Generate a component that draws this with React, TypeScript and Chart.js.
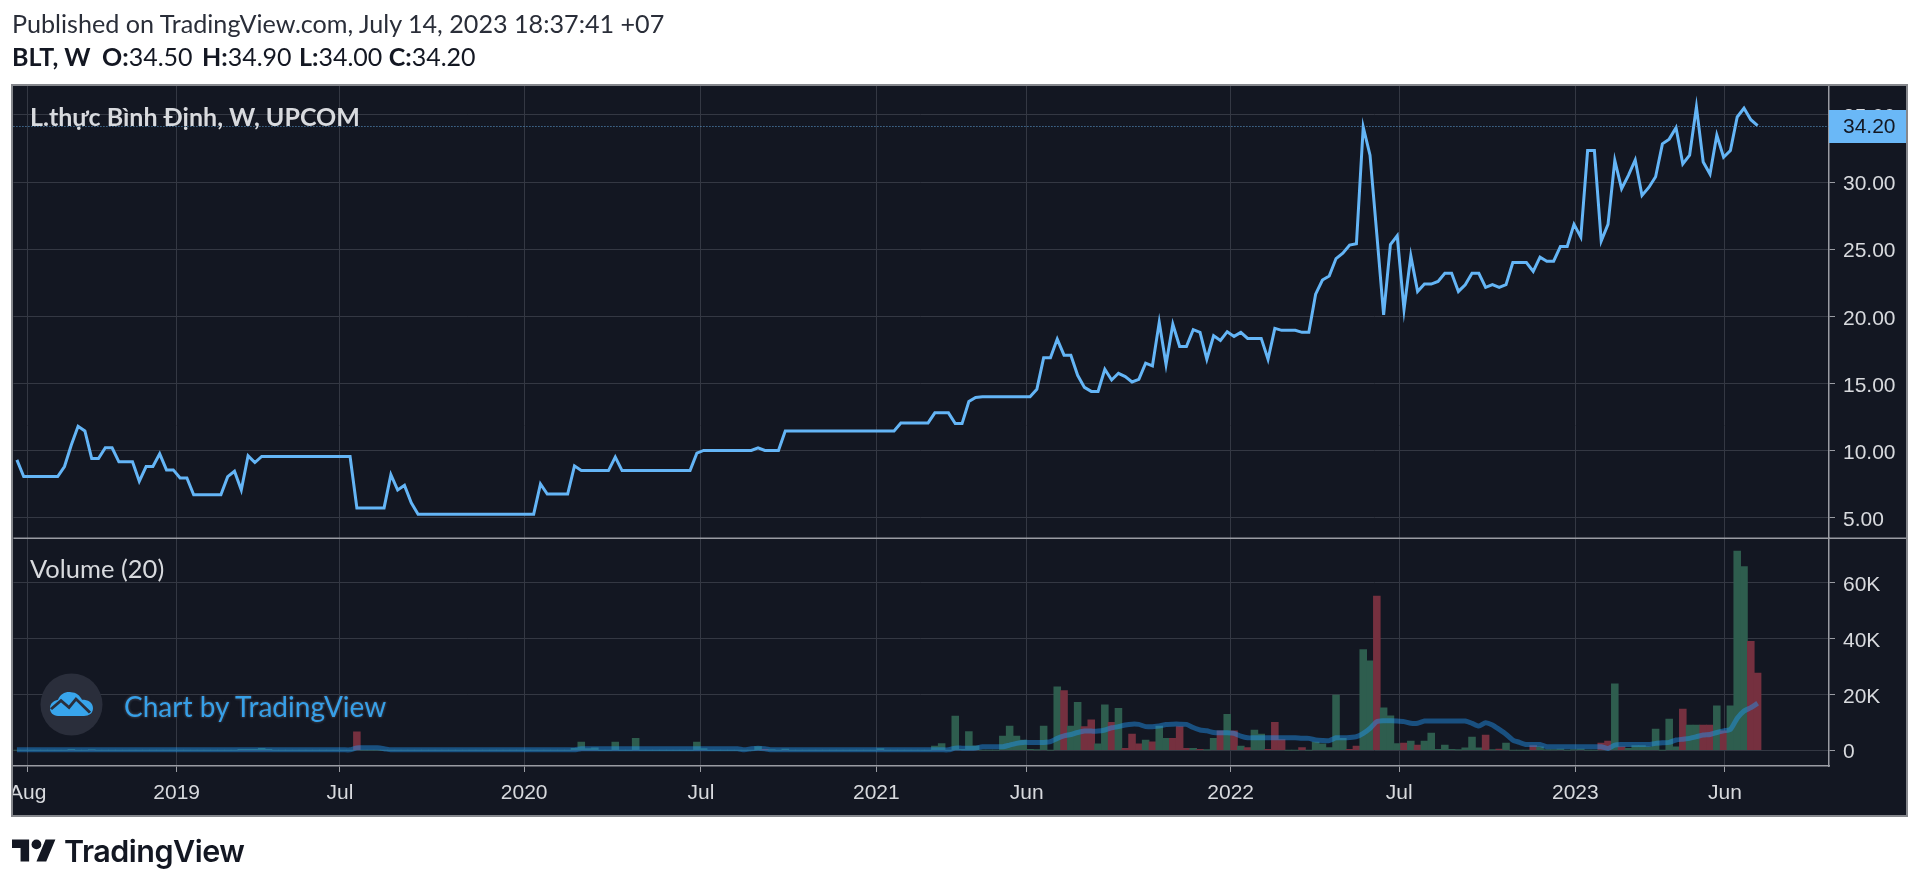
import React, { useEffect, useRef } from "react";
import { Chart, registerables } from "chart.js";

Chart.register(...registerables);

// Weekly closes, one per week, Aug 2018 to Jul 2023
const prices = [
  9.3,8.05,8.05,8.05,8.05,8.05,8.05,8.8,10.4,11.8,
  11.45,9.4,9.4,10.2,10.2,9.15,9.15,9.15,7.7,8.8,
  8.8,9.75,8.55,8.55,7.95,7.95,6.7,6.7,6.7,6.7,
  6.7,8.05,8.45,7.05,9.6,9.1,9.55,9.55,9.55,9.55,
  9.55,9.55,9.55,9.55,9.55,9.55,9.55,9.55,9.55,9.55,
  5.72,5.72,5.72,5.72,5.72,8.2,7.05,7.4,6.1,5.25,
  5.25,5.25,5.25,5.25,5.25,5.25,5.25,5.25,5.25,5.25,
  5.25,5.25,5.25,5.25,5.25,5.25,5.25,7.5,6.75,6.75,
  6.75,6.75,8.85,8.5,8.5,8.5,8.5,8.5,9.5,8.5,
  8.5,8.5,8.5,8.5,8.5,8.5,8.5,8.5,8.5,8.5,
  9.8,10,10,10,10,10,10,10,10,10.2,
  10,10,10,11.45,11.45,11.45,11.45,11.45,11.45,11.45,
  11.45,11.45,11.45,11.45,11.45,11.45,11.45,11.45,11.45,11.45,
  12.05,12.05,12.05,12.05,12.05,12.8,12.8,12.8,12,12,
  13.65,13.95,14,14,14,14,14,14,14,14,
  14.55,16.9,16.9,18.3,17.1,17.1,15.6,14.7,14.4,14.4,
  16.05,15.25,15.75,15.5,15.1,15.3,16.5,16.3,19.55,16.4,
  19.4,17.75,17.75,19,18.8,16.8,18.55,18.2,18.85,18.5,
  18.8,18.35,18.35,18.35,16.8,19.1,18.95,18.95,18.95,18.8,
  18.8,21.65,22.7,23,24.3,24.7,25.3,25.4,34.1,32,
  26.1,20.1,25.35,26,20.5,24.5,21.85,22.4,22.4,22.6,
  23.2,23.2,21.85,22.35,23.2,23.2,22.15,22.35,22.15,22.35,
  24,24,24,23.35,24.4,24.1,24.1,25.2,25.2,26.85,
  25.9,32.35,32.35,25.6,26.85,31.6,29.5,30.5,31.65,29,
  29.6,30.4,32.85,33.2,34.05,31.35,32,35.6,31.5,30.6,
  33.5,31.85,32.35,34.85,35.5,34.65,34.2,
];

// Weekly volume, thousands
const volumes = [
  0,0,0,0,0,0,0,0,0.3,0,
  0,0.2,0,0,0,0,0,0,0,0,
  0,0,0,0,0,0,0,0,0,0,
  0,0,0,0.3,0.3,0.3,0.6,0.3,0,0,
  0,0,0,0,0,0,0,0,0,0,
  6.5,0,0,0,0,0,0,0,0,0,
  0,0,0,0,0,0,0,0,0,0,
  0,0,0,0,0,0,0,0,0,0,
  0,0,0.6,2.9,0.5,0.8,0,0,2.9,0,
  0,4.2,0,0,0,0,0,0,0,0,
  2.9,0.5,0,0,0,0,0,0,0,1.3,
  0.3,0.1,0,0.4,0,0,0,0,0,0,
  0,0,0,0,0,0,0,0.5,0,0,
  0,0,0,0,0,1.4,2.3,0,12.2,0.3,
  6.6,1.5,0,0,0,5,8.6,5,3.6,0.3,
  0.1,8.6,0,22.7,21.3,8.6,17.1,8.4,10.8,2.2,
  16.2,9.9,15,0.6,5.7,2.2,3.6,3,8.6,4.2,
  4.2,8.4,0.6,0.6,0.3,0.1,4.2,6.9,12.8,6.9,
  1.4,0.9,7.2,5.7,0.3,9.9,3.8,0,0,0.9,
  0,2.9,2.2,0.9,19.7,4.2,0.3,1.4,36,32,
  55.2,15.1,12.3,2.3,2.5,3.2,1.8,3.2,6.1,0.3,
  1.8,0.3,0.1,0.8,4.7,0.8,5.4,0.1,0.4,2.5,
  0,0,0,1.6,1.2,0.1,0.1,0.4,0,0.1,
  0.4,0,0,2.5,3.2,23.7,1.2,0.6,1.6,1.6,
  1.2,7.5,0,11.1,1.2,14.7,9,9,9,9,
  15.9,6.9,15.9,71.3,65.7,39,27.6,
];

// Weeks whose volume bar is red
const downWeeks = [
  50,110,154,157,158,161,163,164,165,167,170,171,172,174,177,179,181,184,185,186,
  189,196,197,200,204,206,216,218,223,233,234,236,245,248,249,251,255,256,
];

// Volume moving average (20), thousands
const volumeAverage = [
  0.1,0.1,0.1,0.1,0.1,0.1,0.1,0.1,0.1,0.1,
  0.1,0.1,0.1,0.1,0.1,0.1,0.1,0.1,0.1,0.1,
  0.1,0.1,0.1,0.1,0.1,0.1,0.1,0.1,0.1,0.1,
  0.1,0.1,0.1,0.1,0.1,0.1,0.1,0.1,0.1,0.1,
  0.1,0.1,0.1,0.1,0.1,0.1,0.1,0.1,0.1,0.1,
  0.8,0.8,0.8,0.8,0.5,0.1,0.1,0.1,0.1,0.1,
  0.1,0.1,0.1,0.1,0.1,0.1,0.1,0.1,0.1,0.1,
  0.1,0.1,0.1,0.1,0.1,0.1,0.1,0.1,0.1,0.1,
  0.1,0.1,0.1,0.5,0.5,0.5,0.5,0.5,0.5,0.5,
  0.5,0.5,0.5,0.5,0.5,0.5,0.5,0.5,0.5,0.5,
  0.5,0.5,0.5,0.5,0.5,0.5,0.5,0.1,0.5,0.7,
  0.5,0.1,0.1,0.1,0.1,0.1,0.1,0.1,0.1,0.1,
  0.1,0.1,0.1,0.1,0.1,0.1,0.1,0.1,0.1,0.1,
  0.1,0.1,0.1,0.1,0.1,0.1,0.1,0.1,0.7,0.7,
  0.7,0.7,1.2,1.2,1.2,1.2,1.8,2.4,2.75,2.75,
  2.75,2.75,3,4.2,5.1,5.6,6.3,6.8,6.8,6.8,
  7.2,8,8.4,9,9.3,9.2,8.4,8.4,8.6,9.2,
  9.3,9.3,9.2,8.1,7.2,6.9,6.3,6.2,6.2,6,
  5,4.4,4.4,4.4,4.4,4.4,4.4,4.4,4.4,4.2,
  4.2,3.6,3.4,3.4,4.4,4.4,4.5,4.8,6,7.8,
  10.2,10.5,10.5,10.4,10.2,9.6,9.6,10.4,10.4,10.4,
  10.4,10.4,10.4,10.4,9.6,8.6,9.8,9,7.4,5.7,
  3.6,2.75,2,2,2,1.2,1.2,1.2,1.2,1.2,
  1.2,1.2,1.2,1.2,0.6,1.8,2,2,2,2,
  2,2.4,2.6,2.75,3.6,3.9,4.2,4.8,5.4,5.6,
  6.3,6.9,7.4,11.4,14,15.2,16.8,
];

const weekIndexes = prices.map((_, i) => i);
const timeTickWeeks = [1.6, 23.5, 47.5, 74.6, 100.6, 126.4, 148.5, 178.5, 203.3, 229.2, 251.2];
const timeTickLabels = ["Aug", "2019", "Jul", "2020", "Jul", "2021", "Jun", "2022", "Jul", "2023", "Jun"];
const priceTicks = [5, 10, 15, 20, 25, 30, 35];
const volumeTicks = [0, 20, 40, 60];
const lastPrice = 34.2;

const AXIS_FONT = { family: "'Liberation Sans', Arial, sans-serif", size: 21 };
// The empty first line with this line height lowers the y labels a little, as in the reference.
const Y_AXIS_FONT = { ...AXIS_FONT, lineHeight: "5px" };
const GRID = "#343843";
const AXIS_LINE = "#9a9ca3";
const AXIS_TEXT = "#d8dade";
const LINE_BLUE = "#64b5f6";

const panelPlugin = {
  id: "panel",
  afterDraw(chart: any) {
    const { ctx, scales, chartArea } = chart;
    const y = scales.yPrice.getPixelForValue(lastPrice);
    ctx.save();
    // last-price dotted line
    ctx.strokeStyle = "#5b9bd0";
    ctx.lineWidth = 1;
    ctx.setLineDash([1, 2]);
    ctx.beginPath();
    ctx.moveTo(chartArea.left, Math.round(y) + 0.5);
    ctx.lineTo(chartArea.right, Math.round(y) + 0.5);
    ctx.stroke();
    ctx.setLineDash([]);
    // pane separator
    ctx.strokeStyle = AXIS_LINE;
    ctx.lineWidth = 1.5;
    ctx.beginPath();
    ctx.moveTo(chartArea.left, scales.yPrice.bottom + 0.5);
    ctx.lineTo(1907, scales.yPrice.bottom + 0.5);
    ctx.stroke();
    // last-price badge
    ctx.fillStyle = "#6ab8f7";
    ctx.fillRect(chartArea.right, Math.round(y) - 16, 1907 - chartArea.right, 33);
    ctx.fillStyle = "#131722";
    ctx.font = "21px 'Liberation Sans', Arial, sans-serif";
    ctx.textBaseline = "middle";
    ctx.textAlign = "left";
    ctx.fillText(lastPrice.toFixed(2), chartArea.right + 14, Math.round(y) + 1);
    // outer frame, which also clips the first time label
    ctx.fillStyle = "#ffffff";
    ctx.fillRect(0, chartArea.bottom, 11, 60);
    ctx.strokeStyle = "#85878c";
    ctx.lineWidth = 2;
    ctx.strokeRect(12, 85, 1895, 731);
    ctx.restore();
  },
};

export default function App() {
  const ref = useRef<HTMLCanvasElement>(null);
  useEffect(() => {
    document.body.style.margin = "0";
    const chart = new Chart(ref.current!, {
      data: {
        labels: weekIndexes,
        datasets: [
          {
            type: "line",
            label: "BLT",
            data: prices,
            yAxisID: "yPrice",
            borderColor: LINE_BLUE,
            borderWidth: 3,
            pointRadius: 0,
            tension: 0,
            order: 0,
          },
          {
            type: "line",
            label: "Volume MA",
            data: volumeAverage,
            yAxisID: "yVolume",
            borderColor: "rgba(33,150,243,0.45)",
            borderWidth: 5,
            pointRadius: 0,
            tension: 0.2,
            order: 1,
          },
          {
            type: "bar",
            label: "Volume",
            data: volumes,
            yAxisID: "yVolume",
            barThickness: 6.9,
            borderWidth: 0,
            backgroundColor: (c: any) => (downWeeks.includes(c.dataIndex) ? "#75303f" : "#2e5d4e"),
            order: 2,
          },
        ],
      } as any,
      options: {
        responsive: false,
        animation: false,
        layout: { padding: { left: 12, top: 86, right: 13, bottom: 72 } },
        plugins: { legend: { display: false }, tooltip: { enabled: false }, title: { display: false } },
        scales: {
          x: {
            type: "linear",
            offset: false,
            min: -0.51,
            max: 266.5,
            afterBuildTicks: (a: any) => {
              a.ticks = timeTickWeeks.map((value) => ({ value }));
            },
            afterFit: (a: any) => {
              a.height = 49;
            },
            grid: { offset: false, color: GRID, tickColor: AXIS_LINE, tickLength: 6 },
            border: { color: AXIS_LINE, width: 1.5 },
            ticks: {
              autoSkip: false,
              maxRotation: 0,
              padding: 9,
              color: AXIS_TEXT,
              font: AXIS_FONT,
              callback: (v: any) => timeTickLabels[timeTickWeeks.indexOf(v)] ?? "",
            },
          },
          yPrice: {
            type: "linear",
            position: "right",
            stack: "panes",
            stackWeight: 451,
            min: 3.5,
            max: 37.16,
            afterBuildTicks: (a: any) => {
              a.ticks = priceTicks.map((value) => ({ value }));
            },
            afterFit: (a: any) => {
              a.width = 78;
            },
            grid: { color: GRID, tickColor: AXIS_LINE, tickLength: 6 },
            border: { color: AXIS_LINE, width: 1.5 },
            ticks: { color: AXIS_TEXT, font: Y_AXIS_FONT, padding: 8, callback: (v: any) => ["", Number(v).toFixed(2)] },
          },
          yVolume: {
            type: "linear",
            position: "right",
            stack: "panes",
            stackWeight: 228,
            min: -5.7,
            max: 76.1,
            afterBuildTicks: (a: any) => {
              a.ticks = volumeTicks.map((value) => ({ value }));
            },
            afterFit: (a: any) => {
              a.width = 78;
            },
            grid: { color: GRID, tickColor: AXIS_LINE, tickLength: 6 },
            border: { color: AXIS_LINE, width: 1.5 },
            ticks: { color: AXIS_TEXT, font: Y_AXIS_FONT, padding: 8, callback: (v: any) => ["", v === 0 ? "0" : `${v}K`] },
          },
        },
      },
      plugins: [panelPlugin],
    } as any);
    return () => chart.destroy();
  }, []);

  const abs = (left: number, top: number, extra: React.CSSProperties = {}): React.CSSProperties => ({
    position: "absolute",
    left,
    top,
    whiteSpace: "nowrap",
    ...extra,
  });
  const headFont = "Lato, 'Open Sans', sans-serif";

  return (
    <div style={{ position: "relative", width: 1920, height: 887, background: "#ffffff", overflow: "hidden" }}>
      <div style={{ position: "absolute", left: 12, top: 85, width: 1895, height: 731, background: "#131722" }} />
      <canvas ref={ref} width={1920} height={887} style={{ position: "absolute", left: 0, top: 0, display: "block" }} />
      <div style={abs(12, 8, { font: `25.15px ${headFont}`, color: "#2a2e39" })}>
        Published on TradingView.com, July 14, 2023 18:37:41 +07
      </div>
      <div style={abs(12, 41, { font: `25px ${headFont}`, color: "#131722" })}>
        <b>BLT, W</b> <b style={{ marginLeft: 5 }}>O:</b>34.50 <b style={{ marginLeft: 3 }}>H:</b>34.90{" "}
        <b style={{ marginLeft: 1 }}>L:</b>34.00 <b>C:</b>34.20
      </div>
      <div style={abs(30, 101, { font: `bold 25px ${headFont}`, color: "#d8dade" })}>L.thực Bình Định, W, UPCOM</div>
      <div style={abs(30, 553, { font: `25.5px ${headFont}`, color: "#d8dade" })}>Volume (20)</div>
      <svg style={abs(40, 673)} width="63" height="63" viewBox="0 0 63 63">
        <circle cx="31.5" cy="31.5" r="31" fill="#2a2e3b" />
        <g transform="translate(0,3) scale(1,0.85)">
          <path
            d="M10 38c0-6 4-9 8-10 2-7 8-10 13-9 5 0 9 4 11 9 6 0 11 3 11 10 0 6-4 9-9 9H18c-5 0-8-4-8-9z"
            fill="#38a5ec"
          />
          <path d="M11 39l10-10 8 8 7-10 14 16" fill="none" stroke="#2a2e3b" strokeWidth="3" />
        </g>
      </svg>
      <div
        style={abs(124, 689, {
          font: `28px ${headFont}`,
          color: "#37a0e8",
          textShadow: "0 0 3px #3a3f4c, 0 0 3px #3a3f4c",
        })}
      >
        Chart by TradingView
      </div>
      <svg style={abs(12, 839)} width="44" height="23" viewBox="0 4 36 18">
        <path d="M14 22H7V11H0V4h14v18zM28 22h-8l7.5-18h8L28 22z" fill="#131722" />
        <circle cx="20" cy="8" r="4" fill="#131722" />
      </svg>
      <div style={abs(64, 832, { font: "600 30.5px Inter, sans-serif", color: "#131722", letterSpacing: "-0.5px" })}>
        TradingView
      </div>
    </div>
  );
}
